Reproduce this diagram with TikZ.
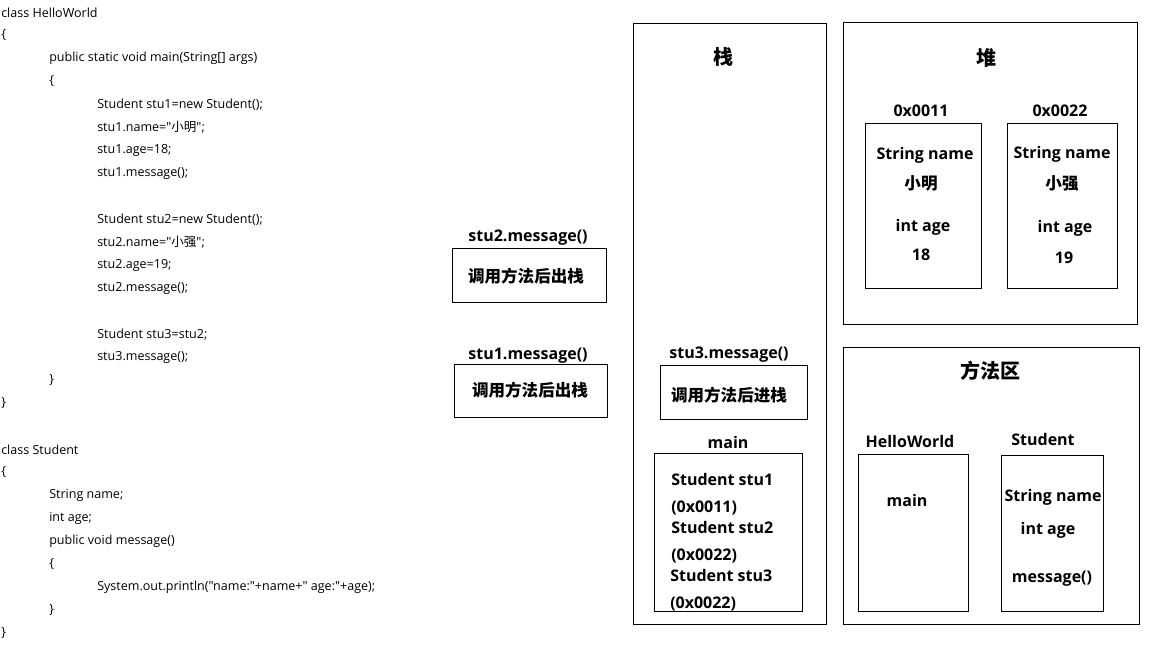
\documentclass[tikz,border=0pt]{standalone}
\usepackage{fontspec}
\setmainfont{Open Sans}
\newfontfamily\codefont{Open Sans}[Ligatures=TeXOff]
\newfontfamily\cjk{Noto Sans CJK SC}
\usetikzlibrary{fit}
\tikzset{
  box/.style={draw, line width=0.75pt, inner sep=0pt},
  code/.style={anchor=west, inner sep=0pt, font=\fontsize{9.4}{11}\codefont},
  lbl/.style={inner sep=0pt, font=\fontsize{12}{14}\selectfont\bfseries},
  cjklbl/.style={inner sep=0pt, font=\fontsize{12.4}{14}\selectfont\cjk\bfseries},
  ttl/.style={inner sep=0pt, font=\fontsize{15}{18}\selectfont\cjk\bfseries},
}
\begin{document}
\begin{tikzpicture}[x=0.75pt,y=-0.75pt]
\useasboundingbox (0,0) rectangle (1152,648);
% ---- code ----
\node[code] (c0) at (1,12.5) {class HelloWorld};
\node[code] (c1) at (1,35.5) {\{};
\node[code] (c2) at (49,58.5) {public static void main(String[] args)};
\node[code] (c3) at (49,81.5) {\{};
\node[code] (c4) at (97,104.5) {Student stu1=new Student();};
\node[code] (c5) at (97,127.5) {stu1.name="{\cjk 小明}";};
\node[code] (c6) at (97,150.5) {stu1.age=18;};
\node[code] (c7) at (97,173.5) {stu1.message();};
\node[code] (c9) at (97,219.5) {Student stu2=new Student();};
\node[code] (c10) at (97,242.5) {stu2.name="{\cjk 小强}";};
\node[code] (c11) at (97,265.5) {stu2.age=19;};
\node[code] (c12) at (97,288.5) {stu2.message();};
\node[code] (c14) at (97,334.5) {Student stu3=stu2;};
\node[code] (c15) at (97,357.5) {stu3.message();};
\node[code] (c16) at (49,380.5) {\}};
\node[code] (c17) at (1,403.5) {\}};
\node[code] (c19) at (1,449.5) {class Student};
\node[code] (c20) at (1,472.5) {\{};
\node[code] (c21) at (49,495.5) {String name;};
\node[code] (c22) at (49,518.5) {int age;};
\node[code] (c23) at (49,541.5) {public void message()};
\node[code] (c24) at (49,564.5) {\{};
\node[code] (c25) at (97,587.5) {System.out.println("name:"+name+" age:"+age);};
\node[code] (c26) at (49,610.5) {\}};
\node[code] (c27) at (1,633.5) {\}};
% ---- popped / pushed frames ----
\node[lbl] (l2) at (528,237.5) {stu2.message()};
\node[box, fit={(452,249) (606,303)}] (f2) {};
\node[cjklbl] (t2) at (526,276) {调用方法后出栈};
\node[lbl] (l1) at (528,355.5) {stu1.message()};
\node[box, fit={(454,364) (607,417)}] (f1) {};
\node[cjklbl] (t1) at (530,390) {调用方法后出栈};
% ---- stack ----
\node[box, fit={(633,24) (826,624)}] (stack) {};
\node[ttl] (stt) at (723,57) {栈};
\node[lbl] (l3) at (729,354.5) {stu3.message()};
\node[box, fit={(660,365) (807,419)}] (f3) {};
\node[cjklbl] (t3) at (729,395) {调用方法后进栈};
\node[lbl] (lm) at (728,442) {main};
\node[box, fit={(654,453) (802,611)}] (fm) {};
\node[lbl, anchor=west] (m1) at (671,479) {Student stu1};
\node[lbl, anchor=west] (m2) at (671,507.5) {(0x0011)};
\node[lbl, anchor=west] (m3) at (671,527) {Student stu2};
\node[lbl, anchor=west] (m4) at (671,555.5) {(0x0022)};
\node[lbl, anchor=west] (m5) at (670,575) {Student stu3};
\node[lbl, anchor=west] (m6) at (670,603.5) {(0x0022)};
% ---- heap ----
\node[box, fit={(843,23) (1137,325)}] (heap) {};
\node[ttl] (htt) at (986,58) {堆};
\node[lbl] (a1) at (921,111) {0x0011};
\node[box, fit={(865,124) (981,289)}] (o1) {};
\node[lbl] (o1a) at (925,155) {String name};
\node[cjklbl] (o1b) at (921,183) {小明};
\node[lbl] (o1c) at (923,227) {int age};
\node[lbl] (o1d) at (921,255) {18};
\node[lbl] (a2) at (1060,111) {0x0022};
\node[box, fit={(1007,124) (1117,289)}] (o2) {};
\node[lbl] (o2a) at (1062,154) {String name};
\node[cjklbl] (o2b) at (1062,183) {小强};
\node[lbl] (o2c) at (1065,228) {int age};
\node[lbl] (o2d) at (1064,258) {19};
% ---- method area ----
\node[box, fit={(843,348) (1139,624)}] (marea) {};
\node[ttl] (mtt) at (990,371) {方法区};
\node[lbl] (hw) at (910,441) {HelloWorld};
\node[box, fit={(858,454) (968,611)}] (hwb) {};
\node[lbl] (hwm) at (907,500) {main};
\node[lbl] (sl) at (1043,439) {Student};
\node[box, fit={(1001,455) (1103,611)}] (sb) {};
\node[lbl] (sb1) at (1053,497) {String name};
\node[lbl] (sb2) at (1048,530) {int age};
\node[lbl] (sb3) at (1052,578.5) {message()};
\end{tikzpicture}
\end{document}
